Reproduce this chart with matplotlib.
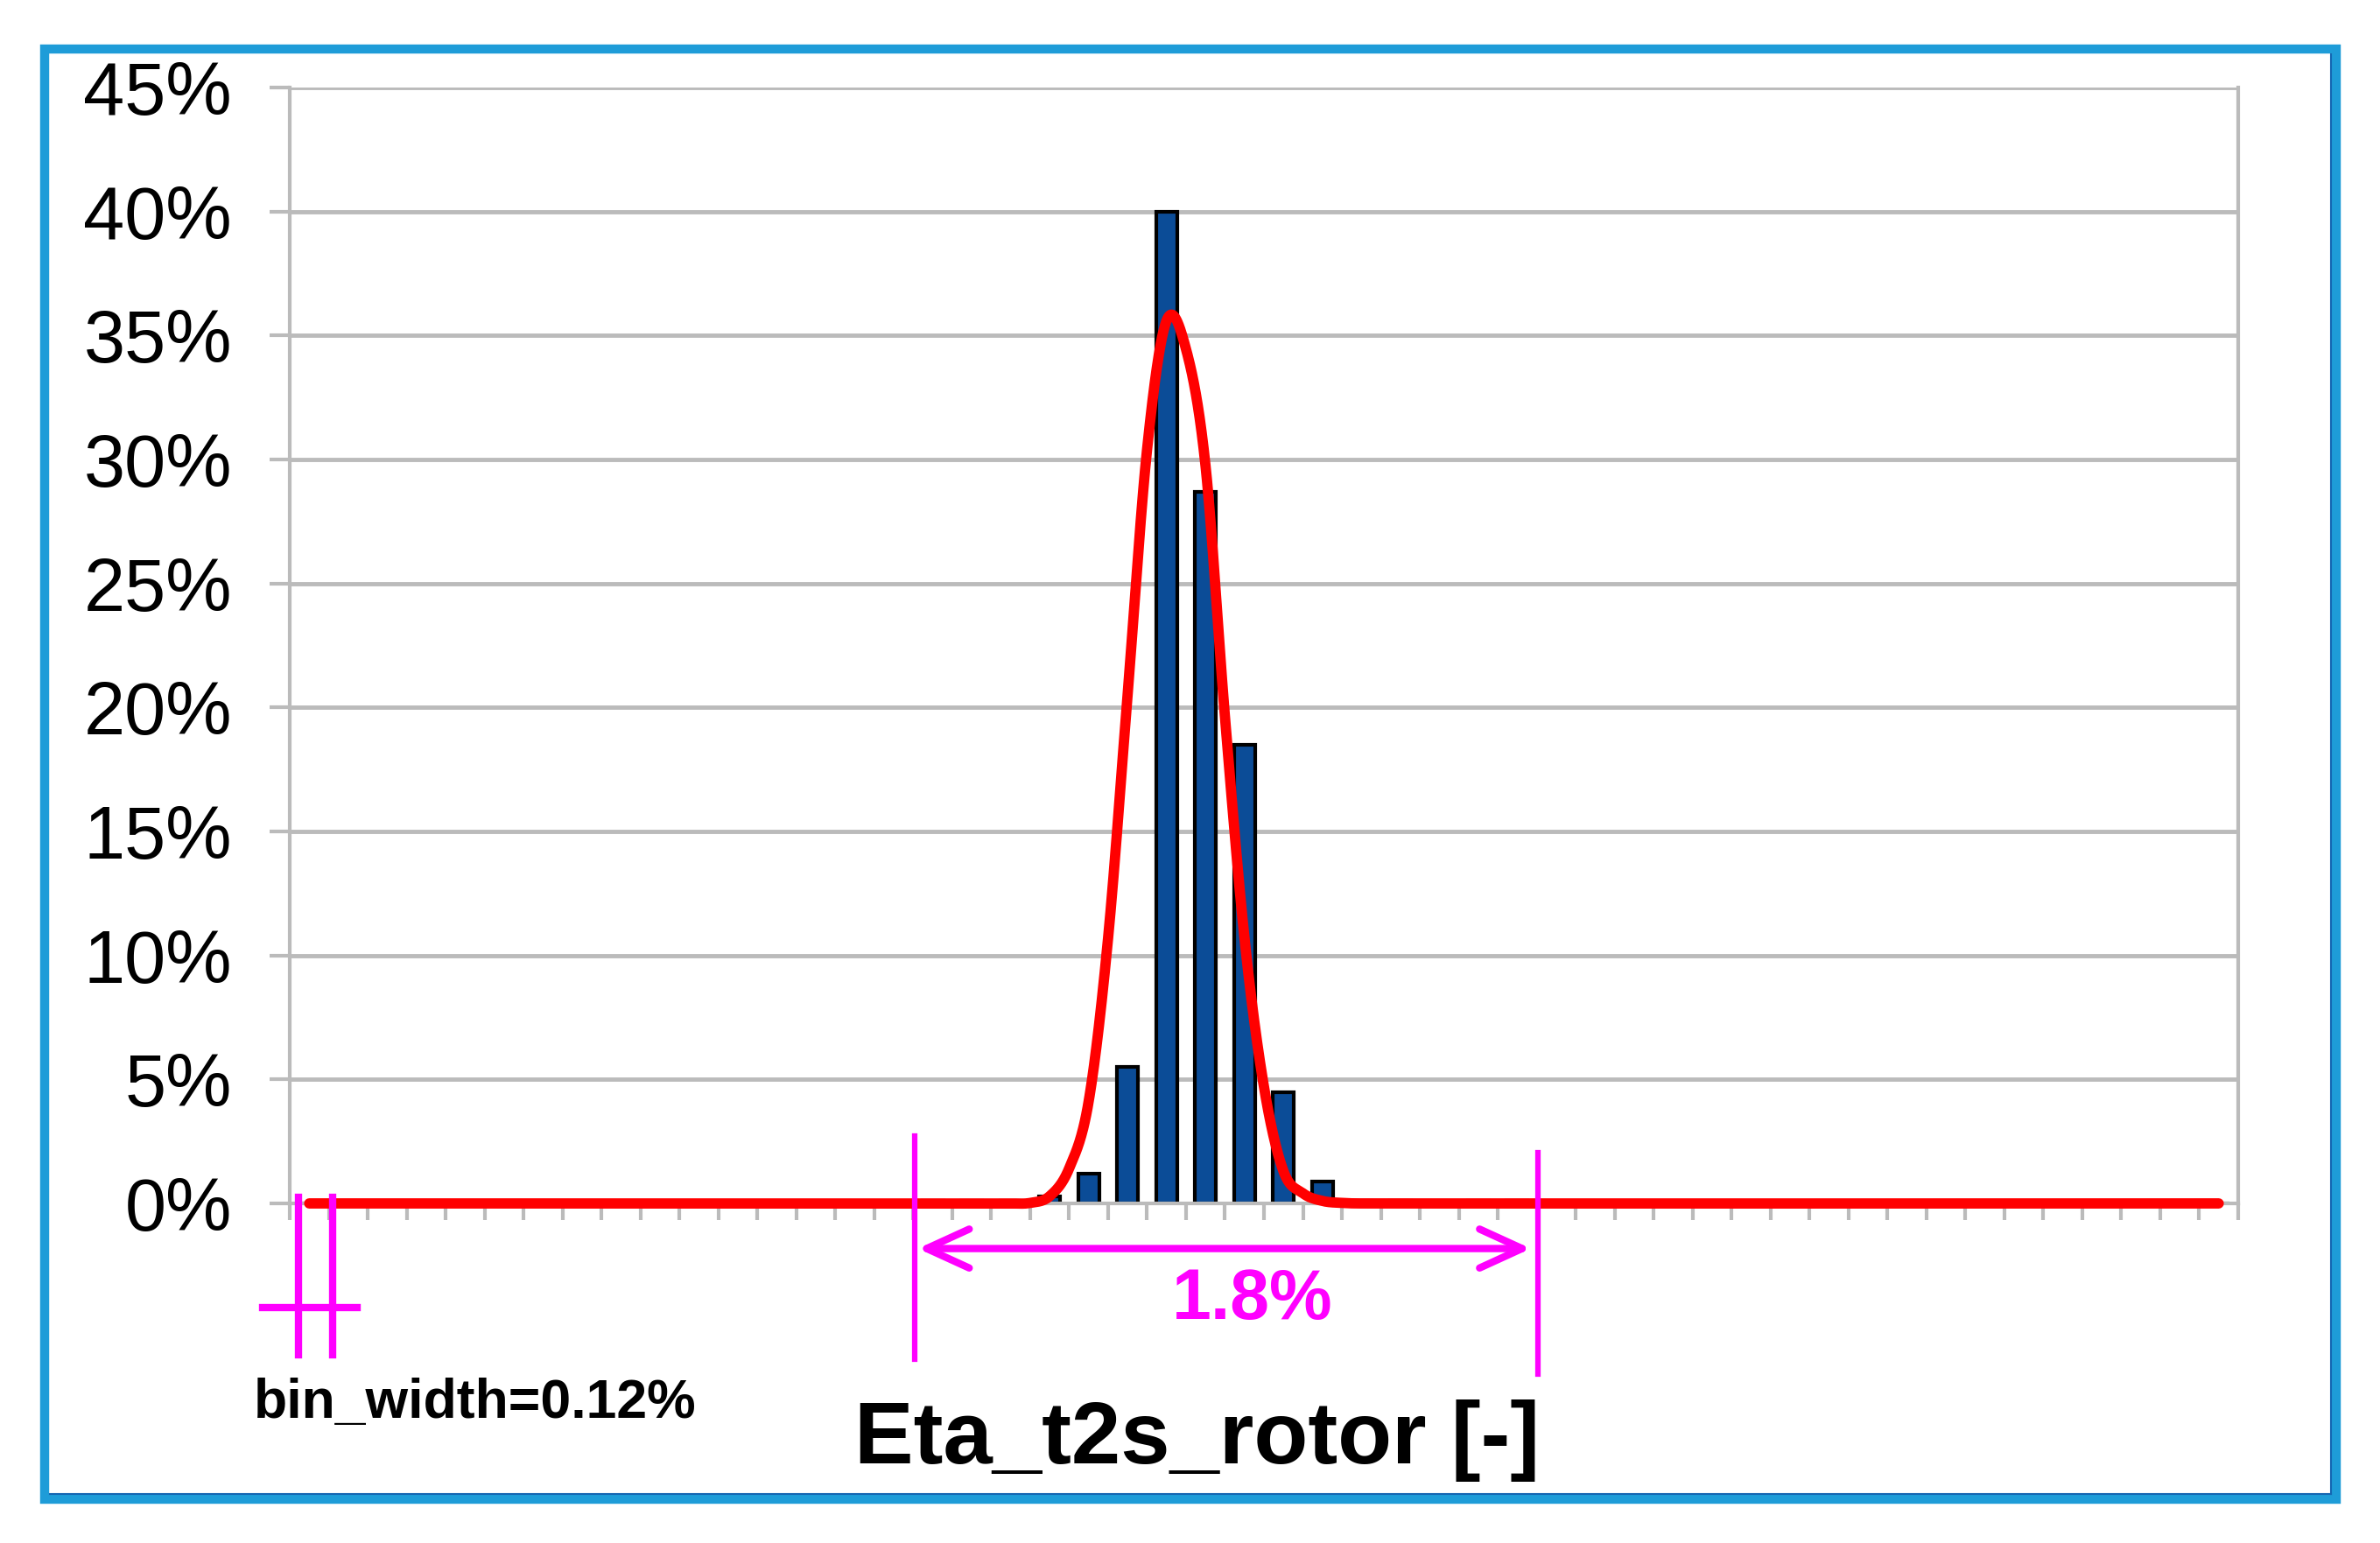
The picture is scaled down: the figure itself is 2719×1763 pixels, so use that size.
import numpy as np
import matplotlib
matplotlib.use("Agg")
import matplotlib.pyplot as plt
from matplotlib.patches import Rectangle
from matplotlib.lines import Line2D

plt.rcParams['font.family'] = ['Liberation Sans', 'DejaVu Sans']

# ---------------- data ----------------
n_bins = 50
bin_index = list(range(n_bins))
# histogram frequencies [%] per bin (non-listed bins are 0)
bar_values = [0.0] * n_bins
bar_nonzero = {16: 0.12, 17: 0.12, 18: 0.12, 19: 0.27, 20: 1.2, 21: 5.5,
               22: 40.0, 23: 28.7, 24: 18.5, 25: 4.5, 26: 0.88,
               27: 0.12, 28: 0.12, 30: 0.12, 31: 0.12}
for k, v in bar_nonzero.items():
    bar_values[k] = v
# fitted distribution [%] (position in bin units)
fit_positions = [0, 18, 18.5, 19, 19.5, 20, 20.5, 21, 21.5, 22, 22.5,
                 23, 23.5, 24, 24.5, 25, 25.5, 26, 26.5, 27, 49]
fit_values = [0.0, 0.0, 0.02, 0.29, 1.41, 4.1, 10.7, 20.5, 30.4, 35.6, 34.45,
              29.75, 19.6, 10.7, 4.7, 1.3, 0.41, 0.1, 0.02, 0.0, 0.0]
y_ticks = [0, 5, 10, 15, 20, 25, 30, 35, 40, 45]
y_tick_labels = [f"{t}%" for t in y_ticks]
span_label = "1.8%"
bin_label = "bin_width=0.12%"
x_label = "Eta_t2s_rotor [-]"


def smooth_curve(xs, ys, per_seg=40):
    """Non-uniform Catmull-Rom (Excel-like smoothed line) through the points."""
    xs = np.asarray(xs, float)
    ys = np.asarray(ys, float)
    n = len(xs)
    h = np.diff(xs)
    d = np.zeros(n)
    for k in range(1, n - 1):
        d[k] = (ys[k + 1] - ys[k - 1]) / (xs[k + 1] - xs[k - 1])
    out_x, out_y = [], []
    for i in range(n - 1):
        t = np.linspace(0, 1, per_seg, endpoint=False)
        h00 = 2 * t**3 - 3 * t**2 + 1
        h10 = t**3 - 2 * t**2 + t
        h01 = -2 * t**3 + 3 * t**2
        h11 = t**3 - t**2
        out_y.append(h00 * ys[i] + h10 * h[i] * d[i] + h01 * ys[i + 1] + h11 * h[i] * d[i + 1])
        out_x.append(xs[i] + t * h[i])
    out_x.append([xs[-1]])
    out_y.append([ys[-1]])
    return np.concatenate(out_x), np.concatenate(out_y)


W, H = 2719, 1763
fig = plt.figure(figsize=(W / 100, H / 100), dpi=100)
fig.patch.set_facecolor('white')

ax = fig.add_axes([331 / W, 1 - 1375 / H, (2557 - 331) / W, (1375 - 100) / H])

grid_c = '#BBBBBB'
ax.set_axisbelow(True)
ax.yaxis.grid(True, color=grid_c, lw=3.5)
ax.xaxis.grid(False)

ax.bar(bin_index, bar_values, width=0.54, color='#0B4C97', edgecolor='black',
       linewidth=3, zorder=2)

sx, sy = smooth_curve(fit_positions, fit_values)
ax.plot(sx, sy, color='#FF0000', lw=8.5, solid_capstyle='round',
        solid_joinstyle='round', zorder=3, clip_on=False)

ax.set_xlim(-0.5, n_bins - 0.5)
ax.set_ylim(0, 45)
ax.set_yticks(y_ticks)
ax.set_yticklabels(y_tick_labels)
ax.set_xticks(np.arange(-0.5, n_bins, 1.0))
ax.set_xticklabels([])
ax.tick_params(axis='y', direction='out', length=16.5, width=3, color=grid_c,
               labelsize=61, pad=31)
ax.tick_params(axis='x', direction='out', length=14, width=3, color=grid_c)
for s in ['left', 'right', 'bottom']:
    ax.spines[s].set_color(grid_c)
    ax.spines[s].set_linewidth(3)
ax.spines['top'].set_visible(False)

mag = '#FF00FF'
# span markers
span_left_x, span_right_x = 15.53, 31.52
ax.plot([span_left_x, span_left_x], [2.72, -6.28], color=mag, lw=4.5, clip_on=False, zorder=4)
ax.plot([span_right_x, span_right_x], [2.06, -6.88], color=mag, lw=4.5, clip_on=False, zorder=4)
ax.annotate('', xy=(31.35, -1.82), xytext=(15.62, -1.82),
            xycoords='data', textcoords='data', annotation_clip=False,
            arrowprops=dict(arrowstyle='<->,head_length=3.5,head_width=1.6',
                            color=mag, lw=6, shrinkA=0, shrinkB=0))
ax.text(24.2, -4.65, span_label, color=mag, fontsize=58, fontweight='bold',
        ha='center', va='baseline', clip_on=False)

# bin width markers
ax.plot([-0.27, -0.27], [0.24, -6.11], color=mag, lw=6, clip_on=False, zorder=4)
ax.plot([0.60, 0.60], [0.24, -6.11], color=mag, lw=6, clip_on=False, zorder=4)
ax.plot([-1.2, 1.23], [-4.2, -4.2], color=mag, lw=6, clip_on=False, zorder=4)

fig.text(290 / W, 1 - 1620 / H, bin_label, fontsize=45, fontweight='bold',
         ha='left', va='baseline')
fig.text(1368 / W, 1 - 1672 / H, x_label, fontsize=73, fontweight='bold',
         ha='center', va='baseline')

# blue frame
fig.patches.append(Rectangle((51 / W, 1 - 1713 / H), (2669 - 51) / W, (1713 - 56) / H,
                             transform=fig.transFigure, fill=False,
                             edgecolor='#1E9CD8', lw=7.5, zorder=10))
fig.lines.append(Line2D([2663 / W, 2663 / W], [1 - 62 / H, 1 - 1707 / H],
                        transform=fig.transFigure, color='#1466B2', lw=1.5, zorder=11))
fig.lines.append(Line2D([57 / W, 2663 / W], [1 - 1707 / H, 1 - 1707 / H],
                        transform=fig.transFigure, color='#1466B2', lw=1.5, zorder=11))

fig.savefig('out.png', dpi=100, facecolor='white')
